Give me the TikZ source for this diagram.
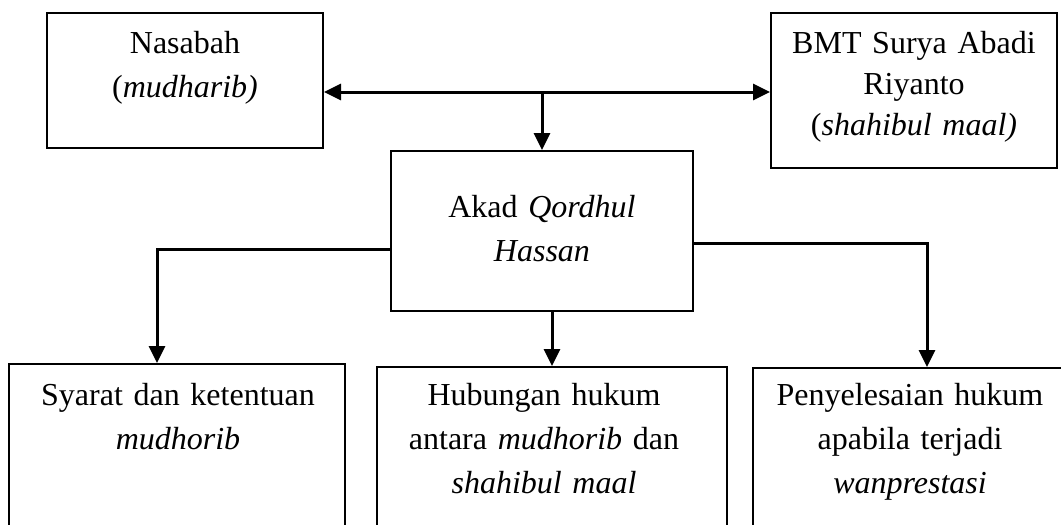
\documentclass[tikz,border=0pt]{standalone}
\usepackage{fontspec}
\setmainfont{Liberation Serif}
\usetikzlibrary{arrows.meta}
\begin{document}
\begin{tikzpicture}[x=1pt,y=-1pt,
  box/.style={draw, line width=2pt, inner sep=0pt},
  txt/.style={align=center, text width=330pt, inner sep=0pt, anchor=base, font=\fontsize{32}{44}\selectfont},
  conn/.style={line width=3pt, -{Triangle[length=17pt,width=16pt]}}]
\useasboundingbox (0,0) rectangle (1061,525);
\clip (0,0) rectangle (1061,525);
% boxes
\node[box, minimum width=276pt, minimum height=135pt] (n) at (185,80.5) {};
\node[box, minimum width=286pt, minimum height=155pt] (bmt) at (914,90.5) {};
\node[box, minimum width=302pt, minimum height=160pt] (akad) at (542,231) {};
\node[box, minimum width=336pt, minimum height=200pt] (b1) at (177,464) {};
\node[box, minimum width=350pt, minimum height=200pt] (b2) at (552,467) {};
\node[box, minimum width=348pt, minimum height=200pt] (b3) at (927,468) {};
% texts
\node[txt] (tn) at (185,53) {Nasabah\\(\textit{mudharib)}};
\node[txt, font=\fontsize{32}{41}\selectfont] (tbmt) at (914,53) {BMT Surya Abadi\\Riyanto\\(\textit{shahibul maal)}};
\node[txt] (takad) at (542,217) {Akad \textit{Qordhul}\\\textit{Hassan}};
\node[txt] (tb1) at (178,405) {Syarat dan ketentuan\\\textit{mudhorib}};
\node[txt] (tb2) at (544,405) {Hubungan hukum\\antara \textit{mudhorib} dan\\\textit{shahibul maal}};
\node[txt] (tb3) at (910,405) {Penyelesaian hukum\\apabila terjadi\\\textit{wanprestasi}};
% connectors
\coordinate (j) at (542,92);
\draw[line width=3pt, {Triangle[length=17pt,width=16pt]}-{Triangle[length=17pt,width=16pt]}] (n.east |- j) -- (bmt.west |- j);
\draw[conn] (j) -- (akad.north);
\draw[conn] (akad.west |- 0,249) -| ([xshift=-20pt]b1.north);
\draw[conn] (b2.north |- akad.south) -- (b2.north);
\draw[conn] (akad.east |- 0,243) -| (b3.north);
\end{tikzpicture}
\end{document}
